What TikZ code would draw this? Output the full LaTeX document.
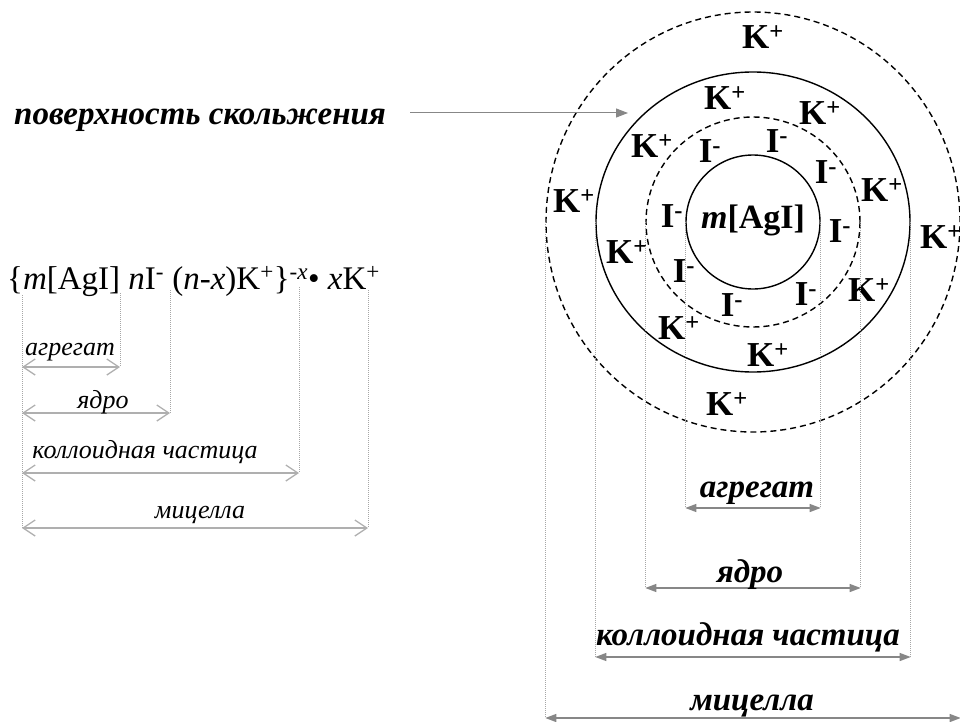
\documentclass[tikz,border=0pt]{standalone}
\usepackage{fontspec}
\setmainfont{Liberation Serif}
\usepackage{tikz}
\usetikzlibrary{arrows.meta,shapes.geometric,positioning,calc}
\definecolor{dimgray}{RGB}{135,135,135}
\definecolor{lightdim}{RGB}{175,175,175}
\newcommand{\kplus}{K\textsuperscript{+}}
\newcommand{\iminus}{I\textsuperscript{-}}

\begin{document}
\begin{tikzpicture}[x=1pt, y=-1pt,
    ion/.style={font=\fontsize{35}{38}\selectfont\bfseries, inner sep=0pt},
    layer/.style={ellipse, draw=black, line width=1.4pt, inner sep=0pt},
    dashlayer/.style={layer, dash pattern=on 6pt off 4pt},
    guide/.style={draw=gray!70, line width=0.5pt, dash pattern=on 1pt off 1pt},
    bigdim/.style={{Triangle[length=11pt,width=8pt]}-{Triangle[length=11pt,width=8pt]}, draw=dimgray, fill=dimgray, line width=1.3pt},
    smalldim/.style={{Straight Barb[length=12pt,width=16pt]}-{Straight Barb[length=12pt,width=16pt]}, draw=lightdim, line width=1.3pt},
    biglabel/.style={font=\fontsize{33}{36}\selectfont\bfseries\itshape, anchor=base, inner sep=0pt},
    smalllabel/.style={font=\fontsize{26}{29}\selectfont\itshape, anchor=base, inner sep=0pt}]

    \useasboundingbox (0,0) rectangle (960,722);

    % Define layers of the micelle
    \node [dashlayer, minimum width=414pt, minimum height=420pt] (micelle) at (753,222) {};
    \node [layer, minimum width=314pt, minimum height=300pt] (particle) at (753,222) {};
    \node [dashlayer, minimum width=214pt, minimum height=210pt] (core) at (753,222) {};
    \node [layer, minimum width=134pt, minimum height=134pt] (aggr) at (753,222) {};
    \node [ion, font=\fontsize{34}{37}\selectfont\bfseries] (agi) at (753,220) {\textit{m}[AgI]};

    % Counter ions K+
    \node [ion] (k1) at (763,37) {\kplus};
    \node [ion] (k2) at (725,98) {\kplus};
    \node [ion] (k3) at (820,113) {\kplus};
    \node [ion] (k4) at (652,146) {\kplus};
    \node [ion] (k5) at (574,201) {\kplus};
    \node [ion] (k6) at (882,190) {\kplus};
    \node [ion] (k7) at (627,252) {\kplus};
    \node [ion] (k8) at (941,237) {\kplus};
    \node [ion] (k9) at (869,290) {\kplus};
    \node [ion] (k10) at (679,328) {\kplus};
    \node [ion] (k11) at (768,355) {\kplus};
    \node [ion] (k12) at (727,404) {\kplus};

    % Potential-determining ions I-
    \node [ion] (i1) at (710,151) {\iminus};
    \node [ion] (i2) at (777,141) {\iminus};
    \node [ion] (i3) at (826,172) {\iminus};
    \node [ion] (i4) at (672,216) {\iminus};
    \node [ion] (i5) at (840,231) {\iminus};
    \node [ion] (i6) at (684,271) {\iminus};
    \node [ion] (i7) at (732,305) {\iminus};
    \node [ion] (i8) at (806,294) {\iminus};

    % Slipping surface
    \node [biglabel, anchor=base west] (slip) at (14,125) {поверхность скольжения};
    \coordinate (slipstart) at (410,113);
    \coordinate (slipmark) at (628,113);
    \draw [-{Triangle[length=12pt,width=9pt]}, dimgray, line width=1pt] (slipstart) -- (slipmark);

    % Right dimension lines
    \coordinate (ragg) at (0,508);
    \coordinate (rcore) at (0,588);
    \coordinate (rpart) at (0,657);
    \coordinate (rmic) at (0,718);
    \draw [guide] (aggr.west) -- (aggr.west |- ragg);
    \draw [guide] (aggr.east) -- (aggr.east |- ragg);
    \draw [guide] (core.west) -- (core.west |- rcore);
    \draw [guide] (core.east) -- (core.east |- rcore);
    \draw [guide] (particle.west) -- (particle.west |- rpart);
    \draw [guide] (particle.east) -- (particle.east |- rpart);
    \draw [guide] (micelle.west) -- (micelle.west |- rmic);
    \draw [guide] (micelle.east) -- (micelle.east |- rmic);
    \draw [bigdim] (aggr.west |- ragg) -- (aggr.east |- ragg);
    \draw [bigdim] (core.west |- rcore) -- (core.east |- rcore);
    \draw [bigdim] (particle.west |- rpart) -- (particle.east |- rpart);
    \draw [bigdim] (micelle.west |- rmic) -- (micelle.east |- rmic);
    \node [biglabel] (ragglab) at (757,497) {агрегат};
    \node [biglabel] (rcorelab) at (750,582) {ядро};
    \node [biglabel] (rpartlab) at (748,645) {коллоидная частица};
    \node [biglabel] (rmiclab) at (752,710) {мицелла};

    % Micelle formula
    \node [anchor=base west, inner sep=0pt, font=\fontsize{33}{36}\selectfont] (formula) at (7,289)
        {\{\textit{m}[AgI] \textit{n}I\textsuperscript{-} (\textit{n}-\textit{x})K\textsuperscript{+}\}\textsuperscript{-\textit{x}}\textbullet\ \textit{x}K\textsuperscript{+}};
    \coordinate (fm) at (22,295);
    \coordinate (fagg) at (120,293);
    \coordinate (fcore) at (170,290);
    \coordinate (fpart) at (299,287);
    \coordinate (fmic) at (368,290);
    \coordinate (lagg) at (0,367);
    \coordinate (lcore) at (0,413);
    \coordinate (lpart) at (0,473);
    \coordinate (lmic) at (0,528);
    \draw [guide] (fm) -- (fm |- lmic);
    \draw [guide] (fagg) -- (fagg |- lagg);
    \draw [guide] (fcore) -- (fcore |- lcore);
    \draw [guide] (fpart) -- (fpart |- lpart);
    \draw [guide] (fmic) -- (fmic |- lmic);
    \draw [smalldim] (fm |- lagg) -- (fagg |- lagg);
    \draw [smalldim] (fm |- lcore) -- (fcore |- lcore);
    \draw [smalldim] (fm |- lpart) -- (fpart |- lpart);
    \draw [smalldim] (fm |- lmic) -- (fmic |- lmic);
    \node [smalllabel] (lagglab) at (70,355) {агрегат};
    \node [smalllabel] (lcorelab) at (103,408) {ядро};
    \node [smalllabel] (lpartlab) at (145,458) {коллоидная частица};
    \node [smalllabel] (lmiclab) at (200,518) {мицелла};

\end{tikzpicture}
\end{document}
